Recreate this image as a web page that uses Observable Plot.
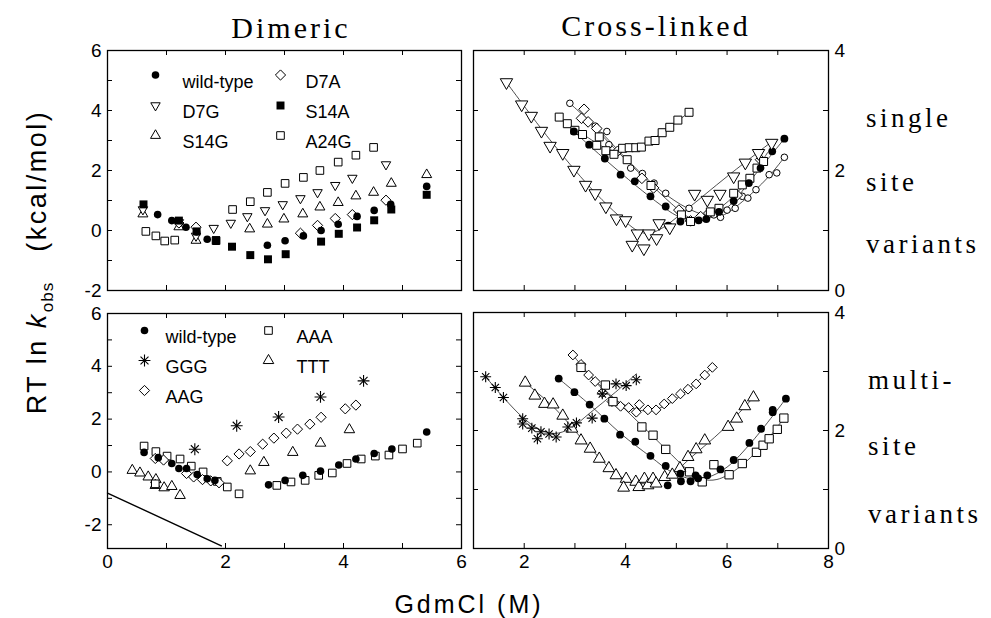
<!DOCTYPE html>
<html><head><meta charset="utf-8">
<script src="https://cdn.jsdelivr.net/npm/d3@7"></script>
<script src="https://cdn.jsdelivr.net/npm/@observablehq/plot@0.6"></script>
<style>
body{margin:0;background:#fff;}
#fig{position:relative;width:991px;height:618px;overflow:hidden;background:#fff;font-family:"Liberation Sans",Arial,sans-serif;color:#000;}
#fig svg{position:absolute;left:0;top:0;}
.t{position:absolute;white-space:nowrap;line-height:1;}
.serif{font-family:"Liberation Serif","Times New Roman",serif;}
</style></head><body><div id="fig"></div>
<script>
// ---------- DATA ----------
// Top-left: Dimeric, single-site variants  [GdmCl (M), RT ln kobs]
const tlWildType = [[0.85,0.53],[1.09,0.33],[1.33,0.11],[1.51,-0.05],[1.69,-0.29],[2.71,-0.49],[3.01,-0.34],[3.32,-0.18],[3.62,0.0],[3.91,0.21],[4.23,0.47],[4.52,0.67],[4.80,0.87],[5.41,1.47]];
const tlD7A = [[1.21,0.25],[1.50,0.11],[3.27,-0.09],[3.56,0.17],[3.86,0.40],[4.15,0.53],[4.72,1.01]];
const tlD7G = [[0.60,0.70],[1.21,0.27],[1.50,-0.18],[1.80,0.08],[2.09,0.25],[2.37,0.47],[2.67,0.67],[2.97,0.87],[3.27,1.07],[3.56,1.27],[3.86,1.51],[4.15,1.75],[4.72,2.20]];
const tlS14A = [[0.61,0.87],[1.21,0.33],[1.51,-0.03],[1.84,-0.32],[2.11,-0.54],[2.42,-0.82],[2.72,-0.96],[3.02,-0.79],[3.62,-0.37],[3.92,-0.11],[4.23,0.10],[4.52,0.34],[4.81,0.70],[5.41,1.19]];
const tlS14G = [[0.60,0.55],[1.21,0.12],[1.50,-0.33],[2.41,0.05],[2.71,0.21],[2.99,0.38],[3.31,0.55],[3.60,0.78],[3.91,0.93],[4.21,1.15],[4.51,1.27],[4.81,1.57],[5.41,1.86]];
const tlA24G = [[0.65,-0.03],[0.82,-0.18],[0.97,-0.35],[1.14,-0.32],[1.84,-0.34],[2.12,0.70],[2.42,0.96],[2.71,1.27],[3.01,1.57],[3.32,1.77],[3.60,2.00],[3.91,2.28],[4.21,2.51],[4.51,2.77]];
const tlLegendLabels = ["wild-type","D7A","D7G","S14A","S14G","A24G"];

// Top-right: Cross-linked, single-site variants
const trD7G = [[1.65,3.47],[1.95,3.10],[2.14,2.91],[2.34,2.66],[2.51,2.41],[2.76,2.29],[2.98,2.01],[3.21,1.76],[3.40,1.62],[3.61,1.40],[3.82,1.20],[4.00,1.17],[4.23,0.95],[4.46,0.95],[4.13,0.76],[4.36,0.70],[4.61,0.87],[4.66,1.12],[4.87,1.05],[5.36,1.61],[5.61,1.51],[5.86,1.61],[6.13,1.90],[6.36,2.13],[6.62,2.29],[6.88,2.46]];
const trWildType = [[2.98,2.65],[3.28,2.43],[3.59,2.20],[3.90,1.93],[4.18,1.82],[4.49,1.57],[4.79,1.40],[4.84,1.08],[5.08,1.15],[5.44,1.17],[5.59,1.19],[5.84,1.31],[6.13,1.49],[6.43,1.79],[6.66,2.04],[6.89,2.32],[7.13,2.53]];
const trOpenCircle = [[2.90,3.12],[3.40,2.74],[3.63,2.65],[3.67,2.43],[4.10,2.04],[4.33,1.95],[4.56,1.79],[4.79,1.62],[5.25,1.37],[5.74,1.26],[5.87,1.22],[6.00,1.34],[6.16,1.37],[6.30,1.57],[6.41,1.54],[6.57,1.68],[6.83,1.93],[6.98,1.96],[7.13,2.22]];
const trA24G = [[2.69,2.89],[2.85,2.78],[3.00,2.67],[3.15,2.60],[3.43,2.42],[3.48,2.56],[3.61,2.33],[3.77,2.27],[3.94,2.37],[4.07,2.38],[4.20,2.38],[4.31,2.39],[4.46,2.49],[4.58,2.50],[4.72,2.63],[4.87,2.72],[5.03,2.84],[5.25,2.97]];
const trD7A = [[3.18,3.02],[3.13,2.87],[3.26,2.81],[3.43,2.70],[3.84,2.32],[4.32,1.87],[4.55,1.71],[5.05,1.34],[5.28,1.16],[5.48,1.23],[5.64,1.29],[6.20,1.59],[6.66,2.18]];
const trSquare = [[4.03,2.18],[4.50,1.75],[5.10,1.26],[5.28,1.15],[5.67,1.31],[5.84,1.37],[6.13,1.62],[6.30,1.76],[6.45,1.87],[6.59,2.04],[6.72,2.15]];
const trD7GFit = [[1.65,3.47],[2.5,2.52],[3.3,1.72],[3.9,1.22],[4.25,0.99],[4.45,0.95],[4.7,1.03],[5.2,1.35],[6.0,1.9],[6.88,2.48]];
const trWildTypeFit = [[2.98,2.65],[3.6,2.18],[4.2,1.75],[4.7,1.42],[5.0,1.25],[5.3,1.17],[5.6,1.19],[6.0,1.38],[6.6,1.98],[7.13,2.53]];
const trOpenCircleFit = [[2.90,3.12],[3.5,2.65],[4.1,2.12],[4.7,1.66],[5.2,1.38],[5.6,1.25],[5.9,1.25],[6.3,1.48],[6.8,1.88],[7.13,2.22]];
const trA24GFit = [[2.69,2.89],[3.2,2.58],[3.7,2.34],[4.0,2.33],[4.3,2.40],[4.7,2.62],[5.25,2.97]];
const trD7AFit = [[3.13,2.95],[3.8,2.35],[4.4,1.85],[4.9,1.45],[5.25,1.22],[5.5,1.2],[5.9,1.4],[6.4,1.82],[6.8,2.3]];

// Bottom-left: Dimeric, multi-site variants
const blWildType = [[0.62,0.74],[0.86,0.54],[1.09,0.32],[1.21,0.13],[1.34,0.13],[1.52,-0.10],[1.69,-0.26],[1.82,-0.32],[2.73,-0.49],[3.01,-0.32],[3.31,-0.13],[3.61,0.03],[3.92,0.26],[4.21,0.49],[4.52,0.70],[4.82,0.87],[5.41,1.51]];
const blAAA = [[0.62,0.98],[0.82,0.77],[1.01,0.60],[1.23,0.49],[1.42,0.22],[1.62,0.0],[1.86,-0.36],[2.03,-0.57],[2.23,-0.83],[2.87,-0.51],[3.11,-0.38],[3.35,-0.32],[3.58,-0.13],[3.81,-0.04],[4.06,0.32],[4.30,0.49],[4.54,0.60],[4.77,0.64],[5.00,0.87],[5.25,1.09],[0.81,-0.45]];
const blGGG = [[1.48,0.86],[2.19,1.75],[2.90,2.08],[3.61,2.84],[4.34,3.45]];
const blTTT = [[0.42,0.06],[0.55,-0.04],[0.69,-0.19],[0.82,-0.29],[0.96,-0.60],[1.09,-0.55],[1.23,-0.89],[0.81,-0.51],[2.42,0.04],[2.65,0.36],[3.14,0.74],[3.61,1.09],[4.10,1.60]];
const blAAG = [[0.81,0.51],[0.95,0.45],[1.34,-0.06],[1.46,-0.19],[1.61,-0.29],[1.75,-0.34],[1.89,-0.41],[2.03,0.42],[2.23,0.68],[2.42,0.77],[2.63,1.05],[2.82,1.28],[3.03,1.47],[3.22,1.62],[3.43,1.81],[3.62,2.07],[4.03,2.39],[4.21,2.53]];
const blSlopeLine = [[0,-0.8],[1.93,-2.8]];
const blLegendLabels = ["wild-type","AAA","GGG","TTT","AAG"];

// Bottom-right: Cross-linked, multi-site variants
const brGGG = [[1.24,2.91],[1.43,2.73],[1.59,2.56],[1.97,2.20],[1.97,2.11],[2.15,2.04],[2.33,1.98],[2.26,1.86],[2.49,1.94],[2.63,1.89],[2.86,2.06],[3.03,2.13],[3.34,2.21],[3.54,2.62],[3.81,2.79],[4.01,2.76],[4.21,2.86]];
const brTTT = [[2.02,2.81],[2.21,2.59],[2.40,2.45],[2.57,2.44],[2.76,2.25],[2.94,2.03],[3.12,1.83],[3.30,1.69],[3.48,1.52],[3.67,1.36],[3.81,1.24],[4.01,1.18],[3.96,1.03],[4.20,1.13],[4.26,1.04],[4.37,1.18],[4.44,1.07],[4.54,1.18],[4.60,1.10],[4.77,1.21],[4.92,1.25],[5.07,1.36],[5.23,1.55],[5.39,1.68],[5.56,1.83],[6.02,2.06],[6.19,2.20],[6.35,2.41],[6.52,2.56]];
const brWildType = [[2.68,2.88],[2.99,2.65],[3.29,2.44],[3.58,2.20],[3.89,1.93],[4.19,1.81],[4.49,1.57],[4.79,1.40],[4.83,1.07],[5.08,1.27],[5.09,1.14],[5.28,1.14],[5.38,1.24],[5.43,1.19],[5.61,1.24],[5.87,1.34],[6.13,1.50],[6.44,1.79],[6.67,2.03],[6.90,2.31],[6.90,2.35],[7.16,2.54]];
const brAAA = [[3.12,3.07],[3.60,2.77],[3.75,2.49],[4.32,2.06],[4.54,1.92],[4.79,1.68],[5.26,1.30],[5.51,1.13],[5.74,1.42],[6.04,1.25],[6.30,1.44],[6.58,1.63],[6.71,1.75],[6.83,1.86],[6.99,2.02],[7.12,2.21]];
const brAAG = [[2.96,3.28],[3.12,3.12],[3.27,2.94],[3.40,2.83],[3.54,2.64],[3.73,2.49],[3.90,2.41],[4.06,2.39],[4.21,2.31],[4.27,2.44],[4.44,2.35],[4.60,2.35],[4.76,2.45],[4.92,2.54],[5.08,2.62],[5.23,2.70],[5.39,2.79],[5.56,2.94],[5.71,3.07]];
const brGGGFit = [[1.24,2.91],[1.6,2.55],[2.0,2.2],[2.3,2.02],[2.6,1.95],[2.9,2.03],[3.3,2.3],[3.8,2.65],[4.21,2.96]];
const brTTTFit = [[2.02,2.81],[2.6,2.38],[3.2,1.8],[3.7,1.35],[4.0,1.17],[4.3,1.10],[4.6,1.13],[4.9,1.25],[5.3,1.55],[5.9,2.0],[6.52,2.56]];
const brWildTypeFit = [[2.68,2.88],[3.3,2.43],[3.9,1.95],[4.5,1.55],[4.9,1.3],[5.3,1.18],[5.6,1.2],[6.0,1.38],[6.5,1.82],[7.16,2.54]];
const brAAAFit = [[3.12,3.07],[3.7,2.6],[4.3,2.1],[4.8,1.68],[5.2,1.35],[5.5,1.18],[5.8,1.17],[6.2,1.35],[6.7,1.75],[7.12,2.21]];
const brAAGFit = [[2.96,3.28],[3.3,2.93],[3.7,2.58],[4.1,2.39],[4.45,2.33],[4.8,2.43],[5.2,2.67],[5.71,3.07]];

// tick values
const leftYTicks = [-2,-1,0,1,2,3,4,5,6];
const leftYLabels = [-2,0,2,4,6];
const leftXTicks = [0,1,2,3,4,5,6];
const leftXLabels = [0,2,4,6];
const rightYTicks = [0,1,2,3,4];
const rightYLabels = [0,2,4];
const rightXTicks = [1,2,3,4,5,6,7,8];
const rightXLabels = [2,4,6,8];

// ---------- STYLES ----------
const downTriangle = {draw(ctx, size){const s3=Math.sqrt(3);const y=Math.sqrt(size/(s3*3));ctx.moveTo(0,y*2);ctx.lineTo(-s3*y,-y);ctx.lineTo(s3*y,-y);ctx.closePath();}};
const filled = (symbol, r) => ({symbol, r, fill:"black", stroke:"none"});
const open = (symbol, r) => ({symbol, r, fill:"white", stroke:"black", strokeWidth:1});
const star = (r) => ({star:true, r});
const tlStyle = {"wild-type":filled("circle",3.8),"D7A":open("diamond2",4.6),"D7G":open(downTriangle,3.5),"S14A":filled("square",4.5),"S14G":open("triangle",3.7),"A24G":open("square",4.3)};
const blStyle = {"wild-type":filled("circle",3.8),"AAA":open("square",4.3),"GGG":star(3.9),"TTT":open("triangle",3.9),"AAG":open("diamond2",4.6)};

const X = d=>d[0], Y = d=>d[1];
function pts(data, st, extra={}){
  if (st.star) return [
    Plot.dot(data, {x:X, y:Y, symbol:"plus", r:st.r, stroke:"black", strokeWidth:1.1, ...extra}),
    Plot.dot(data, {x:X, y:Y, symbol:"times", r:st.r*0.95, stroke:"black", strokeWidth:1.1, ...extra})
  ];
  return [Plot.dot(data, {x:X, y:Y, ...st, ...extra})];
}
const fit = (data) => Plot.line(data, {x:X, y:Y, curve:"catmull-rom", stroke:"#222", strokeWidth:0.8});

function legend(labels, styles, cols){
  const out=[];
  labels.forEach((lab,i)=>{
    const c=i%2, r=Math.floor(i/2);
    out.push(...pts([lab], styles[lab], {x:undefined, y:undefined, frameAnchor:"top-left", dx:cols.sym[c], dy:cols.row[r]}));
    out.push(Plot.text([lab],{frameAnchor:"top-left", dx:cols.txt[c], dy:cols.row[r], text:d=>d, textAnchor:"start", fontSize:18, fill:"black", style:"letter-spacing:0.6px"}));
  });
  return out;
}

function panel(cfg){
  const W=991,H=618, fw=cfg.x1-cfg.x0, fh=cfg.y1-cfg.y0, tl=5;
  const marks=[
    Plot.tickY(cfg.yTicks,{y:d=>d, insetRight:fw-tl, stroke:"black"}),
    Plot.tickY(cfg.yTicks,{y:d=>d, insetLeft:fw-tl, stroke:"black"}),
    Plot.tickX(cfg.xTicks,{x:d=>d, insetBottom:fh-tl, stroke:"black"}),
    Plot.tickX(cfg.xTicks,{x:d=>d, insetTop:fh-tl, stroke:"black"})
  ];
  if (cfg.yLabels) marks.push(Plot.axisY(cfg.yLabels,{anchor:cfg.ySide, tickSize:0, tickPadding:6, tickFormat:d=>String(d), fontSize:19, label:null}));
  if (cfg.xLabels) marks.push(Plot.axisX(cfg.xLabels,{anchor:"bottom", tickSize:0, tickPadding:6, tickFormat:d=>String(d), fontSize:19, label:null}));
  marks.push(...cfg.marks, Plot.frame({stroke:"black", strokeWidth:1.3}));
  return Plot.plot({width:W,height:H,marginLeft:cfg.x0,marginRight:W-cfg.x1,marginTop:cfg.y0,marginBottom:H-cfg.y1,
    x:{domain:cfg.xDomain, axis:null}, y:{domain:cfg.yDomain, axis:null},
    style:{background:"transparent", fontFamily:"'Liberation Sans', Arial, sans-serif", color:"black", overflow:"visible"},
    marks});
}

const fig = document.getElementById("fig");

fig.append(panel({x0:107,x1:461,y0:50,y1:290,xDomain:[0,6],yDomain:[-2,6],yTicks:leftYTicks,yLabels:leftYLabels,ySide:"left",xTicks:leftXTicks,
  marks:[
    ...pts(tlA24G,tlStyle["A24G"]), ...pts(tlS14G,tlStyle["S14G"]), ...pts(tlD7G,tlStyle["D7G"]), ...pts(tlD7A,tlStyle["D7A"]),
    ...pts(tlWildType,tlStyle["wild-type"]), ...pts(tlS14A,tlStyle["S14A"]),
    ...legend(tlLegendLabels, tlStyle, {sym:[48,173], txt:[75,198], row:[24.5,55,85]})
  ]}));

fig.append(panel({x0:473,x1:828,y0:50,y1:290,xDomain:[1,8],yDomain:[0,4],yTicks:rightYTicks,yLabels:rightYLabels,ySide:"right",xTicks:rightXTicks,
  marks:[
    fit(trD7GFit), fit(trWildTypeFit), fit(trOpenCircleFit), fit(trA24GFit), fit(trD7AFit),
    ...pts(trOpenCircle, open("circle",3.3)), ...pts(trD7A, open("diamond2",4.8)), ...pts(trSquare, open("square",4.5)),
    ...pts(trA24G, open("square",4.5)), ...pts(trWildType, filled("circle",3.9)), ...pts(trD7G, open(downTriangle,4.6))
  ]}));

fig.append(panel({x0:107,x1:461,y0:313,y1:548,xDomain:[0,6],yDomain:[-2.9,6],yTicks:leftYTicks,yLabels:leftYLabels,ySide:"left",xTicks:leftXTicks,xLabels:leftXLabels,
  marks:[
    Plot.line(blSlopeLine,{x:X,y:Y,stroke:"black",strokeWidth:1.4}),
    ...pts(blTTT,blStyle["TTT"]), ...pts(blAAA,blStyle["AAA"]), ...pts(blAAG,blStyle["AAG"]), ...pts(blWildType,blStyle["wild-type"]), ...pts(blGGG,blStyle["GGG"]),
    ...legend(blLegendLabels, blStyle, {sym:[37,161], txt:[58,189], row:[17,47,77]})
  ]}));

fig.append(panel({x0:473,x1:828,y0:312,y1:548,xDomain:[1,8],yDomain:[0,4],yTicks:rightYTicks,yLabels:rightYLabels,ySide:"right",xTicks:rightXTicks,xLabels:rightXLabels,
  marks:[
    fit(brGGGFit), fit(brTTTFit), fit(brWildTypeFit), fit(brAAAFit), fit(brAAGFit),
    ...pts(brAAG, open("diamond2",4.4)), ...pts(brAAA, open("square",4.7)), ...pts(brTTT, open("triangle",4.4)),
    ...pts(brWildType, filled("circle",3.9)), ...pts(brGGG, star(3.6))
  ]}));

// ---------- TEXT ----------
function txt(html, x, y, css, cls){
  const d=document.createElement("div"); d.className="t "+(cls||""); d.innerHTML=html;
  d.style.cssText += `left:${x}px;top:${y}px;transform:translate(-50%,-50%);`+css;
  fig.append(d); return d;
}
function ltxt(html, x, y, css, cls){
  const d=document.createElement("div"); d.className="t "+(cls||""); d.innerHTML=html;
  d.style.cssText += `left:${x}px;top:${y}px;transform:translateY(-50%);`+css;
  fig.append(d); return d;
}
const titles = ["Dimeric","Cross-linked"];
const sideLabels = [["single","site","variants"],["multi-","site","variants"]];
txt(titles[0], 291, 28, "font-size:30px;letter-spacing:3px;", "serif");
txt(titles[1], 656, 26, "font-size:30px;letter-spacing:3px;", "serif");
const sideY = [[118,182,244],[380,446,514]];
sideLabels.forEach((g,gi)=>g.forEach((w,wi)=>ltxt(w, 866+(gi?2:0), sideY[gi][wi], "font-size:27px;letter-spacing:3.5px;", "serif")));
txt("GdmCl (M)", 469, 604, "font-size:25px;letter-spacing:3px;");
txt('RT ln&nbsp;<i>k</i><span style="font-size:17px;vertical-align:-7px;letter-spacing:1px;">obs</span>&nbsp;&nbsp;&nbsp;(kcal/mol)', 40, 262, "font-size:27px;letter-spacing:2.5px;transform:translate(-50%,-50%) rotate(-90deg);");
</script></body></html>
